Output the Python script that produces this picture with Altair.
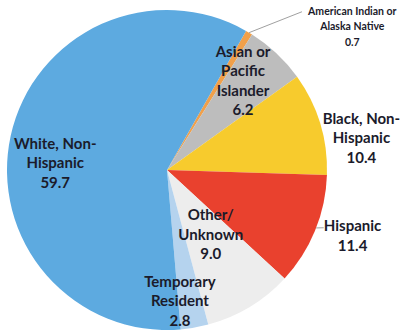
import math
import altair as alt
import pandas as pd

# ---- data ----
categories = [
    "American Indian or Alaska Native",
    "Asian or Pacific Islander",
    "Black, Non-Hispanic",
    "Hispanic",
    "Other/Unknown",
    "Temporary Resident",
    "White, Non-Hispanic",
]
values = [0.7, 6.2, 10.4, 11.4, 9.0, 2.8, 59.7]
label_lines = [
    ["American Indian or", "Alaska Native"],
    ["Asian or", "Pacific", "Islander"],
    ["Black, Non-", "Hispanic"],
    ["Hispanic"],
    ["Other/", "Unknown"],
    ["Temporary", "Resident"],
    ["White, Non-", "Hispanic"],
]

# ---- styling / layout ----
colors = ["#F0A04B", "#BDBDBD", "#F7CB2D", "#E9412E", "#EDEDED", "#B5D3EE", "#5DAAE0"]
TEXT = "#1B1B2B"
CX, CY, R = 167, 170, 160
START = math.radians(29.6)
BIG_FS, BIG_LH = 15, 19.5
SMALL_FS, SMALL_LH = 10.5, 15.5
# per label block centre: (radius in px, angular nudge from slice middle in degrees)
label_layout = {
    "American Indian or Alaska Native": (234, 21.5),
    "Asian or Pacific Islander": (117, -2.7),
    "Black, Non-Hispanic": (197, 7.6),
    "Hispanic": (197, -2.6),
    "Other/Unknown": (78, -3.0),
    "Temporary Resident": (132, 4.3),
    "White, Non-Hispanic": (112, -8.8),
}
# leader lines: (category, r_start, dtheta_start, r_end, dtheta_end)
leader_layout = [
    ("American Indian or Alaska Native", R, 0.0, 208, 9.6),
    ("Hispanic", R, -1.0, 167, -2.0),
]

total = sum(values)
rows = []
cum = 0.0
for i, (c, v, lines) in enumerate(zip(categories, values, label_lines)):
    mid = START + 2 * math.pi * (cum + v / 2) / total
    cum += v
    r, dt = label_layout[c]
    small = (i == 0)
    lh = SMALL_LH if small else BIG_LH
    nlines = len(lines) + 1
    a = mid + math.radians(dt)
    # block centre -> anchor of first line
    xa = r * math.sin(a)
    ya = -r * math.cos(a) - (nlines - 1) * lh / 2
    rows.append(dict(
        category=c, value=v, order=i, mid=mid,
        label="\n".join(lines + [f"{v:.1f}"]),
        label_theta=math.atan2(xa, -ya), label_r=math.hypot(xa, ya),
        small=small,
    ))
df = pd.DataFrame(rows)

lead_rows = []
for c, r1, d1, r2, d2 in leader_layout:
    mid = df.loc[df.category == c, "mid"].iloc[0]
    a1, a2 = mid + math.radians(d1), mid + math.radians(d2)
    lead_rows.append(dict(
        x1=CX + r1 * math.sin(a1), y1=CY - r1 * math.cos(a1),
        x2=CX + r2 * math.sin(a2), y2=CY - r2 * math.cos(a2),
    ))
leaders = pd.DataFrame(lead_rows)

pie = alt.Chart(df).mark_arc(radius=R).encode(
    theta=alt.Theta("value:Q", stack=True,
                    scale=alt.Scale(range=[START, START + 2 * math.pi])),
    color=alt.Color("category:N", scale=alt.Scale(domain=categories, range=colors), legend=None),
    order=alt.Order("order:Q"),
    x=alt.value(CX),
    y=alt.value(CY),
)

lead = alt.Chart(leaders).mark_rule(color="#A0A0A0", strokeWidth=1).encode(
    x=alt.X("x1:Q", scale=None, axis=None),
    y=alt.Y("y1:Q", scale=None, axis=None),
    x2="x2:Q",
    y2="y2:Q",
)

text_common = dict(font="Lato", fontWeight="bold", color=TEXT, align="center",
                   baseline="middle", lineBreak="\n")
enc = dict(
    theta=alt.Theta("label_theta:Q", scale=None),
    radius=alt.Radius("label_r:Q", scale=None),
    text="label:N",
    x=alt.value(CX),
    y=alt.value(CY),
)
big_text = alt.Chart(df).transform_filter("!datum.small").mark_text(
    fontSize=BIG_FS, lineHeight=BIG_LH, **text_common).encode(**enc)
small_text = alt.Chart(df).transform_filter("datum.small").mark_text(
    fontSize=SMALL_FS, lineHeight=SMALL_LH, **text_common).encode(**enc)

chart = alt.layer(pie, lead, big_text, small_text).properties(
    width=402, height=330,
    autosize=alt.AutoSizeParams(type="none"),
    padding=0,
    background="white",
).configure_view(stroke=None)

chart.save("out.html", embed_options={"renderer": "svg", "actions": False})
